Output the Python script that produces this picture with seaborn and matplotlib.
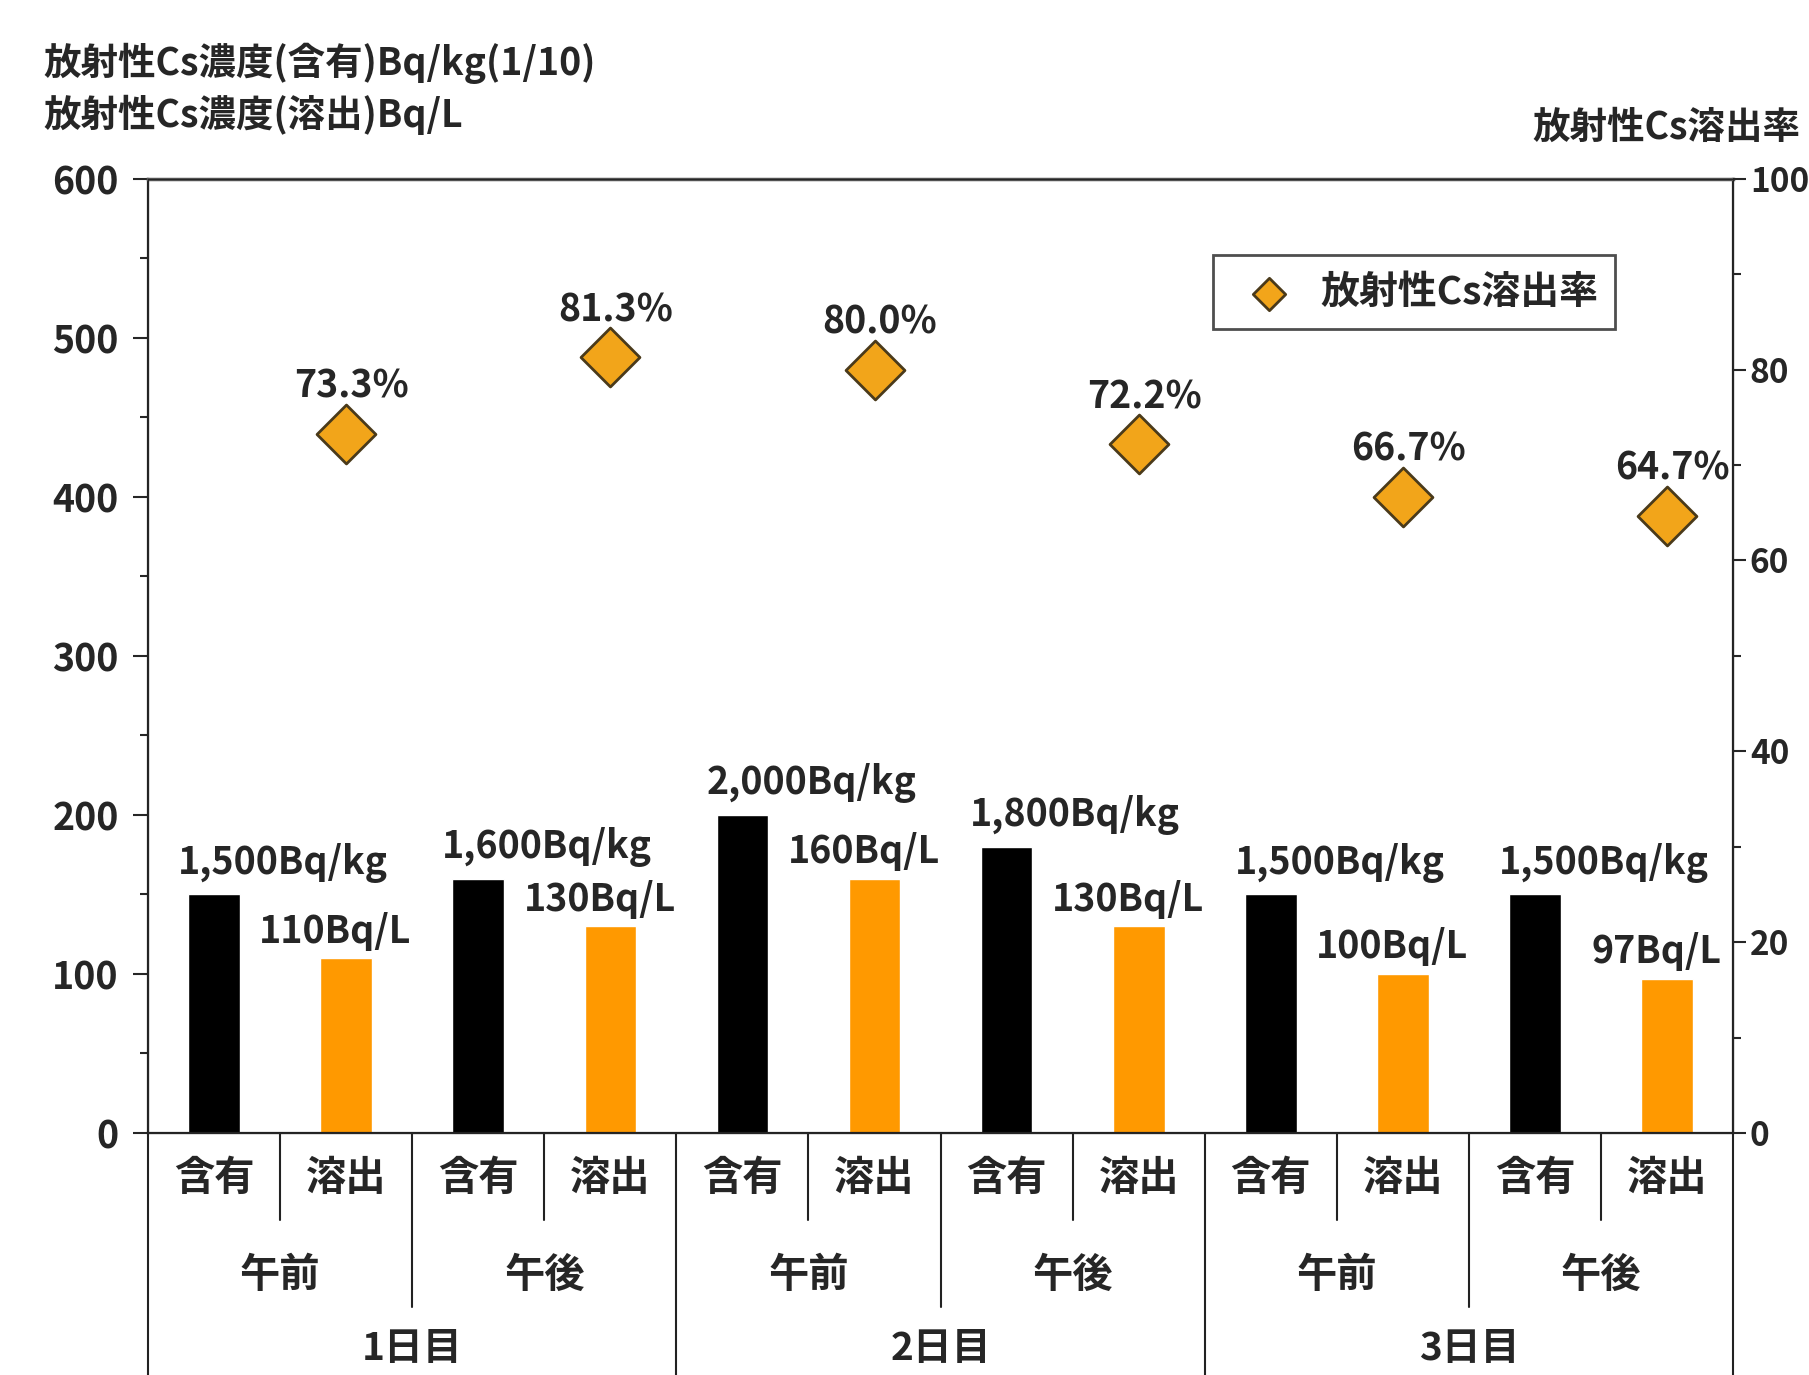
import numpy as np
import pandas as pd
import seaborn as sns
import matplotlib.pyplot as plt
from matplotlib.ticker import MultipleLocator

# data
days = ["1日目", "2日目", "3日目"]
periods = ["午前", "午後"]
kinds = ["含有", "溶出"]
contained = [150, 160, 200, 180, 150, 150]   # Bq/kg (1/10)
eluted = [110, 130, 160, 130, 100, 97]       # Bq/L
rates = [73.3, 81.3, 80.0, 72.2, 66.7, 64.7] # %

sns.set_style("white")
plt.rcParams['font.family'] = ['Noto Sans CJK JP', 'DejaVu Sans']
plt.rcParams['font.weight'] = 'bold'

rows = []
for i in range(len(contained)):
    d, p = days[i // 2], periods[i % 2]
    rows.append({"key": f"{d}-{p}-含有", "kind": "含有", "value": contained[i]})
    rows.append({"key": f"{d}-{p}-溶出", "kind": "溶出", "value": eluted[i]})
df = pd.DataFrame(rows)
order = list(df["key"])

fig = plt.figure(figsize=(18.09, 13.75), dpi=100)
ax = fig.add_axes([0.0818, 0.176, 0.8763, 0.694])

sns.barplot(data=df, x="key", y="value", hue="kind", order=order, dodge=False,
            palette={"含有": "#000000", "溶出": "#FF9900"}, width=0.39,
            saturation=1, legend=False, ax=ax)

ax.set_xlim(-0.5, len(order) - 0.5)
ax.set_ylim(0, 600)
ax.yaxis.set_major_locator(MultipleLocator(100))
ax.yaxis.set_minor_locator(MultipleLocator(50))
ax.tick_params(axis="y", which="major", length=11, width=1.5, labelsize=27, pad=10, direction="out", left=True)
ax.tick_params(axis="y", which="minor", length=6, width=1.5, direction="out", left=True)
ax.set_xlabel("")
ax.set_ylabel("")
ax.set_xticks(range(len(order)))
ax.set_xticklabels([k.split("-")[2] for k in order], fontsize=29)
ax.tick_params(axis="x", length=0, pad=18)
for s in ax.spines.values():
    s.set_visible(True)
    s.set_color("#222222")
    s.set_linewidth(1.6)
ax.spines["top"].set_linewidth(2.5)
ax.spines["top"].set_color("#555555")

# bar value labels
for i, v in enumerate(contained):
    ax.text(2 * i + 0.52, v + 20, f"{v * 10:,}Bq/kg", ha="center", va="center", fontsize=27)
for i, v in enumerate(eluted):
    ax.text(2 * i + 1 - 0.08, v + 17, f"{v}Bq/L", ha="center", va="center", fontsize=27)

# elution rate on right axis
ax2 = ax.twinx()
rate_x = [order.index(f"{days[i // 2]}-{periods[i % 2]}-溶出") for i in range(len(rates))]
sns.scatterplot(x=rate_x, y=rates, marker="D", s=900, color="#F2A51A",
                edgecolor="#4a3a1a", linewidth=2, label="放射性Cs溶出率", ax=ax2, zorder=5)
ax2.set_ylim(0, 100)
ax2.set_xlim(-0.5, len(order) - 0.5)
ax2.yaxis.set_major_locator(MultipleLocator(20))
ax2.yaxis.set_minor_locator(MultipleLocator(10))
ax2.tick_params(axis="y", which="major", length=9, width=1.5, labelsize=24, pad=3, direction="out", right=True)
ax2.tick_params(axis="y", which="minor", length=6, width=1.5, direction="out", right=True)
ax2.set_ylabel("")
for x, r in zip(rate_x, rates):
    ax2.annotate(f"{r:.1f}%", (x, r), xytext=(4, 34), textcoords="offset points",
                 ha="center", va="center", fontsize=27)
leg = ax2.legend(loc="upper right", bbox_to_anchor=(0.938, 0.94), fontsize=28,
                 frameon=True, fancybox=False, edgecolor="#222222",
                 handletextpad=0.3, borderpad=0.45, markerscale=0.55)
leg.get_frame().set_linewidth(2)

# multi-level category labels and separators
tr = ax.get_xaxis_transform()
for j in range(len(order) + 1):
    x = j - 0.5
    if j % 4 == 0:
        y_end = -0.3
    elif j % 2 == 0:
        y_end = -0.182
    else:
        y_end = -0.091
    ax.plot([x, x], [0, y_end], transform=tr, color="#222222", lw=1.5, clip_on=False)
for i in range(len(contained)):
    ax.text(2 * i + 0.5, -0.149, periods[i % 2], transform=tr, ha="center", va="center", fontsize=29)
for d in range(len(days)):
    ax.text(4 * d + 1.5, -0.226, days[d], transform=tr, ha="center", va="center", fontsize=28)

# axis titles
fig.text(0.024, 1 - 63 / 1375, "放射性Cs濃度(含有)Bq/kg(1/10)", ha="left", va="center", fontsize=27)
fig.text(0.024, 1 - 115 / 1375, "放射性Cs濃度(溶出)Bq/L", ha="left", va="center", fontsize=27)
fig.text(0.995, 1 - 127 / 1375, "放射性Cs溶出率", ha="right", va="center", fontsize=27)

fig.savefig("out.png", dpi=100, facecolor="white")
